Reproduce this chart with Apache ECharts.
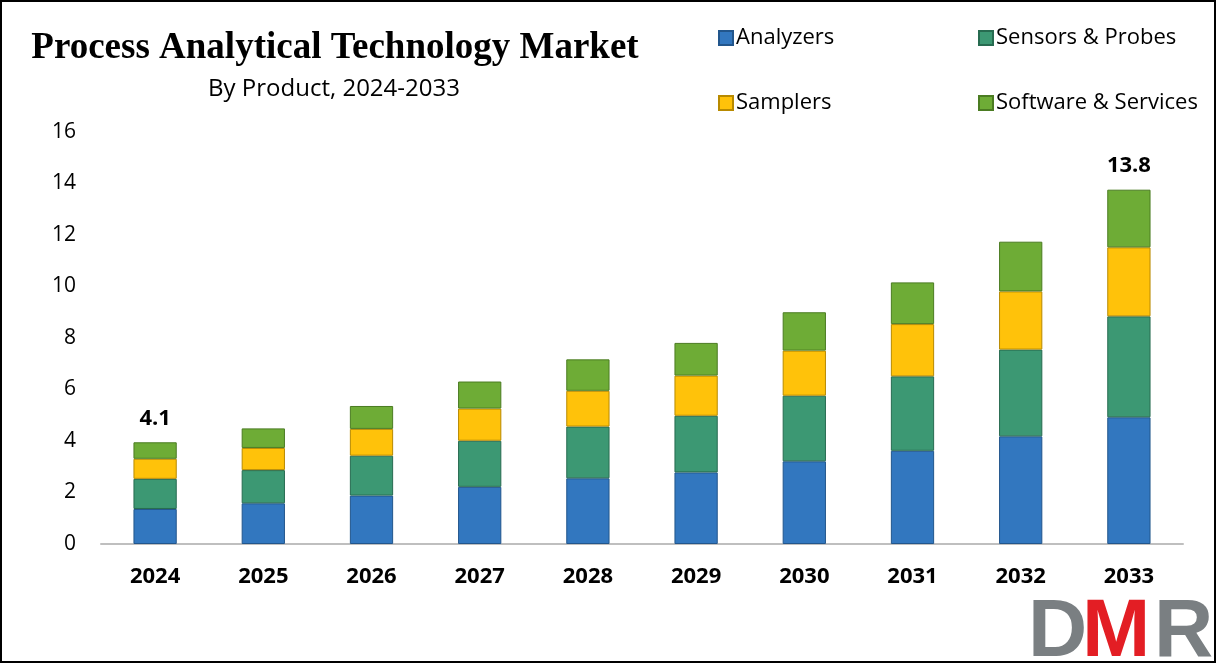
<!DOCTYPE html>
<html><head><meta charset="utf-8">
<script src="https://cdn.jsdelivr.net/npm/echarts@6/dist/echarts.min.js"></script>
<style>
html,body{margin:0;padding:0;background:#fff;}
#frame{position:absolute;left:0;top:0;width:1212px;height:659px;border:2px solid #000;}
#c{position:absolute;left:0;top:0;width:1216px;height:663px;}
</style></head>
<body><div id="frame"></div><div id="c"></div>
<script>
const years = ['2024','2025','2026','2027','2028','2029','2030','2031','2032','2033'];
const analyzers = [1.36,1.58,1.88,2.22,2.55,2.78,3.21,3.62,4.18,4.92];
const sensorsProbes = [1.17,1.29,1.55,1.79,2.01,2.20,2.55,2.89,3.37,3.92];
const samplers = [0.78,0.86,1.04,1.25,1.39,1.56,1.75,2.03,2.26,2.68];
const softwareServices = [0.64,0.76,0.89,1.05,1.22,1.27,1.49,1.62,1.93,2.24];
const totalLabels = ['4.1','','','','','','','','','13.8'];
const yTicks = [0,2,4,6,8,10,12,14,16];

const names = ['Analyzers','Sensors & Probes','Samplers','Software & Services'];
const colors = ['#3277BF','#3C9873','#FFC20A','#6EAC36'];
const borders = ['#22568C','#276B50','#B88A00','#4B7C22'];
const datas = [analyzers, sensorsProbes, samplers, softwareServices];

const chart = echarts.init(document.getElementById('c'));
const series = names.map((n,i)=>({
  name:n, type:'bar', stack:'t', barWidth:'40%',
  data:datas[i],
  itemStyle:{color:colors[i], borderColor:borders[i], borderWidth:1},
  label: i===3 ? {show:true, position:'top', distance:13, fontSize:22, fontWeight:'bold', color:'#000',
    fontFamily:'Open Sans', formatter:p=>totalLabels[p.dataIndex]} : {show:false}
}));
const legendPos = [[713,22],[973,22],[713,87],[973,87]];
const legends = names.map((n,i)=>({
  data:[{name:n, icon:'rect'}], left:legendPos[i][0], top:legendPos[i][1],
  itemWidth:14, itemHeight:14, itemGap:4,
  textStyle:{fontSize:22, color:'#000', fontFamily:'Open Sans', padding:[0,0,0,-2]}
}));
chart.setOption({
  animation:false,
  title:[
    {text:'Process Analytical Technology Market', left:330, top:25, textAlign:'center',
     textStyle:{fontFamily:'Liberation Serif', fontWeight:'bold', fontSize:37, color:'#000'}},
    {text:'By Product, 2024-2033', left:329, top:72, textAlign:'center',
     textStyle:{fontFamily:'Open Sans', fontWeight:'normal', fontSize:24, color:'#000'}}
  ],
  legend:legends,
  grid:{left:101, right:33, top:132, bottom:119},
  xAxis:{type:'category', data:years,
    axisLine:{lineStyle:{color:'#BFBFBF', width:2}}, axisTick:{show:false},
    axisLabel:{fontSize:22, fontWeight:'bold', color:'#000', fontFamily:'Open Sans', margin:22}},
  yAxis:{type:'value', min:0, max:16, interval:2,
    axisLine:{show:false}, axisTick:{show:false}, splitLine:{show:false},
    axisLabel:{fontSize:21, color:'#000', fontFamily:'Open Sans', margin:25,
      formatter:v=>yTicks.includes(v)?String(v):''}},
  series:series,
  graphic:[
    {type:'text', left:1028, top:592, style:{text:'D', font:'bold 82px "Liberation Sans"', fill:'#7A7F82'}},
    {type:'text', left:1082, top:592, style:{text:'M', font:'bold 82px "Liberation Sans"', fill:'#E31E24'}},
    {type:'text', left:1154, top:592, style:{text:'R', font:'bold 82px "Liberation Sans"', fill:'#7A7F82'}}
  ]
});
</script></body></html>
